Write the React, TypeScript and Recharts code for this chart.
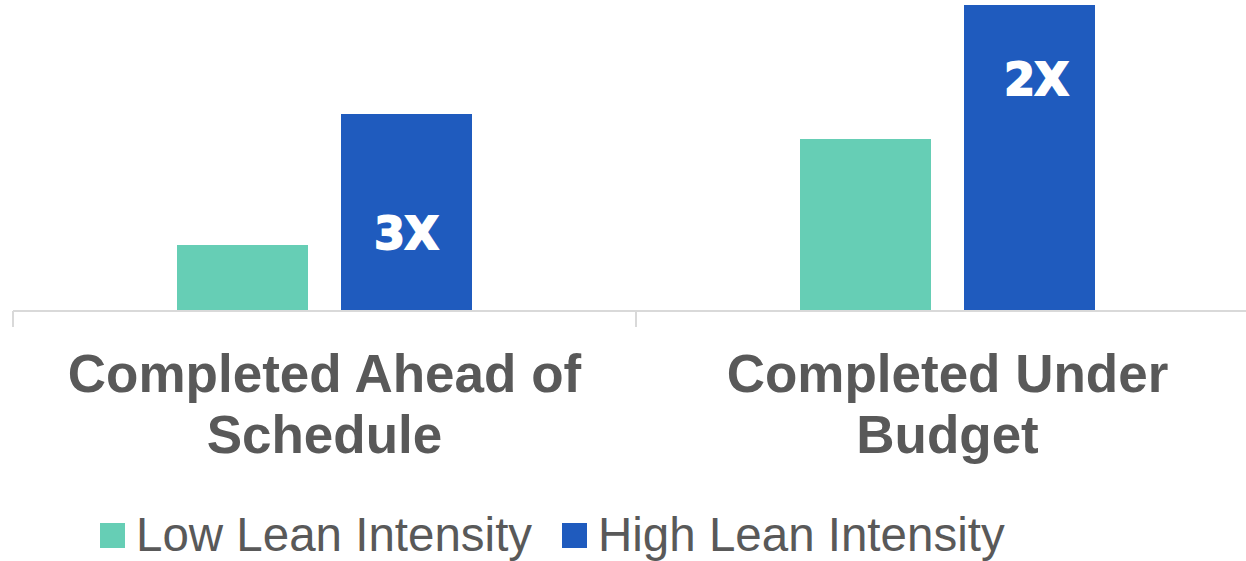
import { BarChart, Bar, XAxis, YAxis, Legend, LabelList } from "recharts";

const categories = ["Completed Ahead of Schedule", "Completed Under Budget"];
const categoryLines = [
  ["Completed Ahead of", "Schedule"],
  ["Completed Under", "Budget"],
];
const lowLean = [6.6, 17.2];
const highLean = [19.7, 30.6];
const multiplierLabels = ["3X", "2X"];
const seriesNames = ["Low Lean Intensity", "High Lean Intensity"];

const TEAL = "#66CEB5";
const BLUE = "#1F5BBE";
const GREY = "#595959";
const AXIS = "#d9d9d9";

const W = 1246;
const H = 561;
const PLOT_LEFT = 13;
const BAND = (W) / categories.length;

const data = categories.map((name, i) => ({
  name,
  low: lowLean[i],
  high: highLean[i],
}));

// where the multiplier text sits inside the tall bar
const labelDrop = [135, 90];
const labelShift = [0, 7];

const CategoryTick = (props: any) => {
  const { x, y, index } = props;
  const lines = categoryLines[index] || [];
  const axisY = y - 18;
  return (
    <g>
      <line x1={x - BAND / 2} x2={x - BAND / 2} y1={axisY} y2={axisY + 16} stroke={AXIS} strokeWidth={2} />
      <line x1={x + BAND / 2} x2={x + BAND / 2} y1={axisY} y2={axisY + 16} stroke={AXIS} strokeWidth={2} />
      <text
        x={x}
        y={axisY + 81}
        textAnchor="middle"
        fill={GREY}
        fontFamily="'Liberation Sans', Arial, sans-serif"
        fontWeight={700}
        fontSize={53}
      >
        {lines.map((l, i) => (
          <tspan key={i} x={x} dy={i === 0 ? 0 : 61}>
            {l}
          </tspan>
        ))}
      </text>
    </g>
  );
};

const MultiplierLabel = (props: any) => {
  const { x, y, width, index } = props;
  return (
    <text
      x={x + width / 2 + labelShift[index]}
      y={y + labelDrop[index]}
      textAnchor="middle"
      fill="#fff"
      stroke="#fff"
      strokeWidth={2}
      fontFamily="'DejaVu Sans', sans-serif"
      fontWeight={700}
      fontSize={44}
    >
      {multiplierLabels[index]}
    </text>
  );
};

const LegendContent = () => {
  const colors = [TEAL, BLUE];
  return (
    <div style={{ position: "relative", height: 56, width: W }}>
      {seriesNames.map((n, i) => (
        <div
          key={n}
          style={{
            position: "absolute",
            left: i === 0 ? 100 - PLOT_LEFT : 562 - PLOT_LEFT,
            top: 0,
            height: 56,
            display: "flex",
            alignItems: "center",
            whiteSpace: "nowrap",
          }}
        >
          <span style={{ width: 25, height: 25, background: colors[i], display: "inline-block", marginRight: 11, marginTop: 4 }} />
          <span
            style={{
              fontFamily: "'Liberation Sans', Arial, sans-serif",
              fontSize: 47.5,
              color: GREY,
              lineHeight: "56px",
              marginTop: 4,
            }}
          >
            {n}
          </span>
        </div>
      ))}
    </div>
  );
};

export default function App() {
  return (
    <div style={{ position: "absolute", left: 0, top: 0, width: W, height: H, overflow: "hidden", background: "#fff" }}>
      <BarChart
        width={W + 16}
        height={H}
        data={data}
        margin={{ top: 0, right: 3, left: PLOT_LEFT, bottom: 0 }}
        barSize={131}
        barGap={33}
      >
        <YAxis hide domain={[0, 31.1]} />
        <XAxis
          dataKey="name"
          height={194}
          interval={0}
          axisLine={{ stroke: AXIS, strokeWidth: 2 }}
          tickLine={false}
          tickSize={16}
          tickMargin={2}
          tick={<CategoryTick />}
        />
        <Legend
          verticalAlign="bottom"
          align="left"
          content={<LegendContent />}
          wrapperStyle={{ left: PLOT_LEFT, height: 56 }}
        />
        <Bar dataKey="low" name={seriesNames[0]} fill={TEAL} isAnimationActive={false} />
        <Bar dataKey="high" name={seriesNames[1]} fill={BLUE} isAnimationActive={false}>
          <LabelList dataKey="high" content={<MultiplierLabel />} />
        </Bar>
      </BarChart>
    </div>
  );
}
